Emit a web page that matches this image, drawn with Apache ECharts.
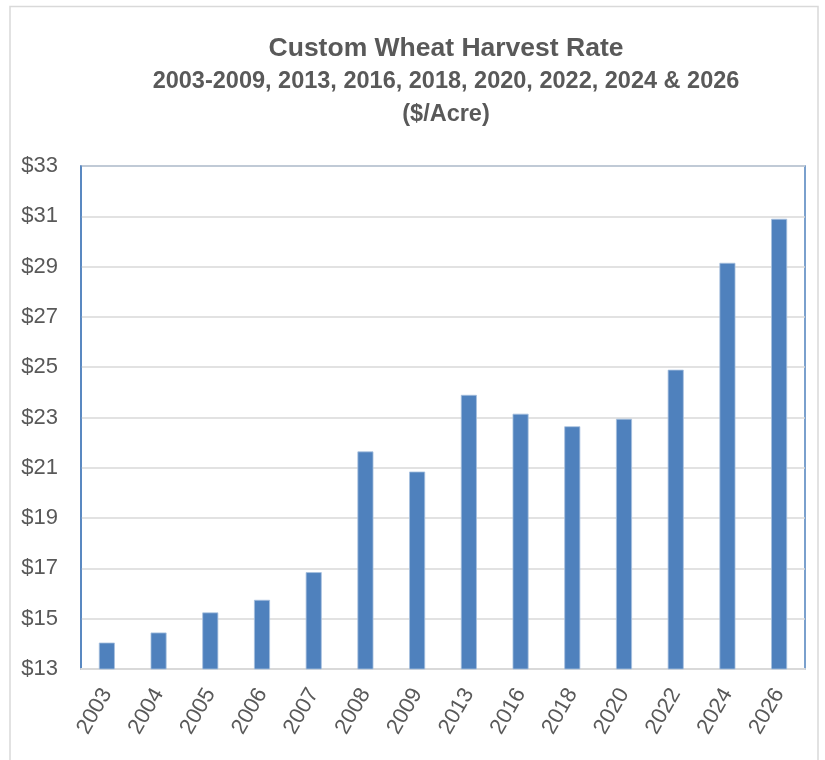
<!DOCTYPE html>
<html>
<head>
<meta charset="utf-8">
<script src="https://cdn.jsdelivr.net/npm/echarts@6/dist/echarts.min.js"></script>
<style>
  html, body { margin: 0; padding: 0; background: #fff; }
  #chart { width: 825px; height: 760px; }
</style>
</head>
<body>
<div id="chart"></div>
<script>
// values
const years = ['2003', '2004', '2005', '2006', '2007', '2008', '2009', '2013', '2016', '2018', '2020', '2022', '2024', '2026'];
const rates = [14.05, 14.45, 15.25, 15.75, 16.85, 21.65, 20.85, 23.9, 23.15, 22.65, 22.95, 24.9, 29.15, 30.9];
const titleLines = ['Custom Wheat Harvest Rate', '2003-2009, 2013, 2016, 2018, 2020, 2022, 2024 & 2026', '($/Acre)'];

const font = "'Liberation Sans', Arial, sans-serif";
const txt = '#595959';

let myChart = echarts.init(document.getElementById('chart'));
myChart.setOption({
  animation: false,
  textStyle: { fontFamily: font },
  title: [
    { text: titleLines[0], left: 441, top: 30, textAlign: 'center',
      textStyle: { fontFamily: font, fontSize: 26.5, fontWeight: 'bold', color: txt } },
    { text: titleLines[1], left: 441, top: 65, textAlign: 'center',
      textStyle: { fontFamily: font, fontSize: 23.5, fontWeight: 'bold', color: txt } },
    { text: titleLines[2], left: 441, top: 98, textAlign: 'center',
      textStyle: { fontFamily: font, fontSize: 23.5, fontWeight: 'bold', color: txt } }
  ],
  graphic: [
    { type: 'rect', shape: { x: 10, y: 6.5, width: 808, height: 770 },
      style: { fill: 'none', stroke: '#D9D9D9', lineWidth: 1.5 }, z: -1 }
  ],
  grid: {
    left: 81, right: 20, top: 166, bottom: 91,
    show: true, borderColor: '#4F81BD', borderWidth: 1.5, backgroundColor: '#fff'
  },
  xAxis: {
    type: 'category',
    data: years,
    axisLine: { lineStyle: { color: '#D9D9D9', width: 2 } },
    axisTick: { show: false },
    axisLabel: { rotate: 60, fontSize: 22, color: txt, margin: 21, fontFamily: font }
  },
  yAxis: {
    type: 'value',
    min: 13, max: 33, interval: 2,
    axisLine: { show: true, lineStyle: { color: '#4F81BD', width: 1.5 } },
    axisTick: { show: false },
    splitLine: { lineStyle: { color: '#D9D9D9', width: 1.5 } },
    axisLabel: { fontSize: 22, color: txt, margin: 23, fontFamily: font,
      formatter: v => '$' + v }
  },
  series: [
    {
      name: 'Rate',
      type: 'bar',
      barWidth: 16,
      data: rates,
      itemStyle: { color: '#4F81BD', borderColor: '#A7C0DE', borderWidth: 0.8 }
    }
  ]
});
</script>
</body>
</html>
